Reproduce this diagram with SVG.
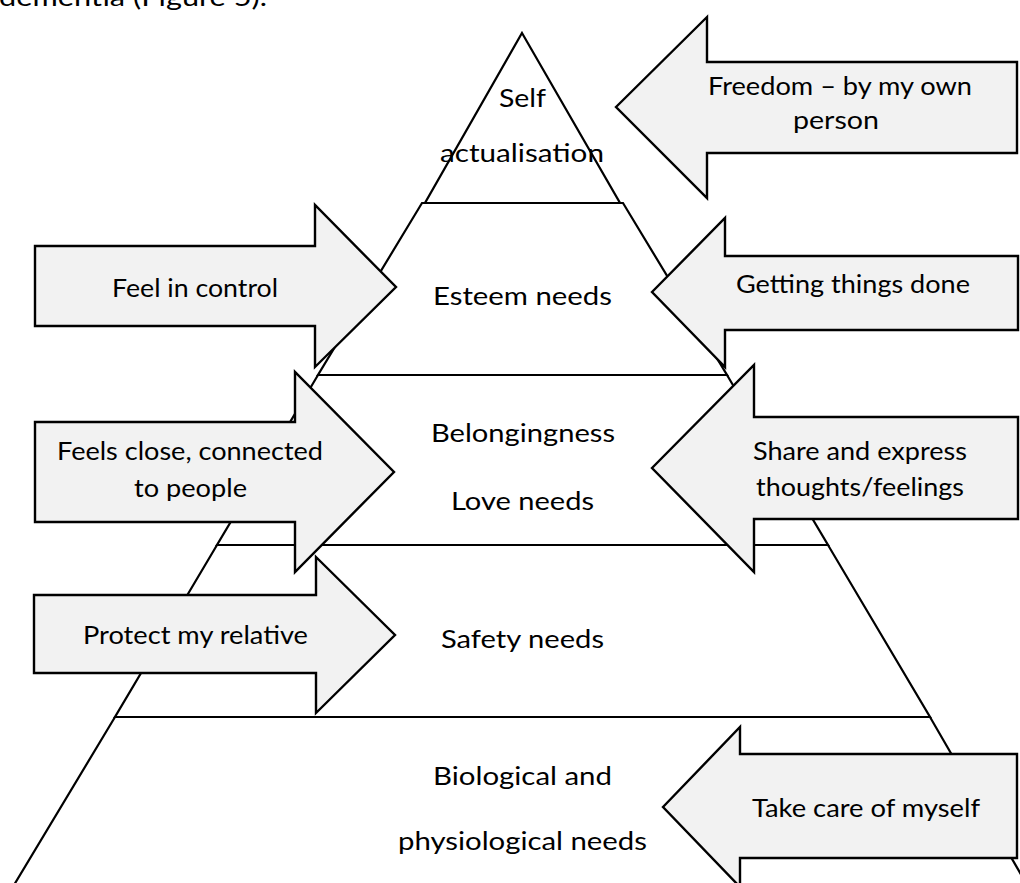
<svg xmlns="http://www.w3.org/2000/svg" width="1020" height="883" viewBox="0 0 1020 883">
<style>
.lvl{fill:#ffffff;stroke:#000;stroke-width:2.2;stroke-linejoin:miter}
.arr{fill:#f2f2f2;stroke:#000;stroke-width:2.4;stroke-linejoin:miter}
text{font-family:Lato,"Open Sans","Liberation Sans",sans-serif;font-size:25px;fill:#000}
</style>
<rect width="1020" height="883" fill="#ffffff"/>
<text x="-1" y="6" textLength="268" lengthAdjust="spacingAndGlyphs">dementia (Figure 5).</text>
<g id="pyramid">
  <g id="level-biological">
    <polygon class="lvl" points="115,717 930,717 1030,890 11,890"/>
    <text x="433" y="785" textLength="179" lengthAdjust="spacingAndGlyphs">Biological and</text>
    <text x="398" y="850" textLength="249" lengthAdjust="spacingAndGlyphs">physiological needs</text>
  </g>
  <g id="level-safety">
    <polygon class="lvl" points="217,545 828,545 930,717 115,717"/>
    <text x="441" y="648" textLength="163" lengthAdjust="spacingAndGlyphs">Safety needs</text>
  </g>
  <g id="level-belonging">
    <polygon class="lvl" points="318,375 727,375 828,545 217,545"/>
    <text x="431" y="442" textLength="184" lengthAdjust="spacingAndGlyphs">Belongingness</text>
    <text x="451" y="510" textLength="143" lengthAdjust="spacingAndGlyphs">Love needs</text>
  </g>
  <g id="level-esteem">
    <polygon class="lvl" points="422,203 623,203 727,375 318,375"/>
    <text x="433" y="305" textLength="179" lengthAdjust="spacingAndGlyphs">Esteem needs</text>
  </g>
  <g id="level-self">
    <polygon class="lvl" points="522,33 620,203 425,203"/>
    <text x="499" y="107" textLength="47" lengthAdjust="spacingAndGlyphs">Self</text>
    <text x="440" y="162" textLength="164" lengthAdjust="spacingAndGlyphs">actualisation</text>
  </g>
</g>
<g id="connectors"></g>
<g id="arrow-freedom">
  <polygon class="arr" points="616,107 707,17 707,62 1017,62 1017,153 707,153 707,198"/>
  <text x="708" y="95" textLength="264" lengthAdjust="spacingAndGlyphs">Freedom – by my own</text>
  <text x="793" y="129" textLength="86" lengthAdjust="spacingAndGlyphs">person</text>
</g>
<g id="arrow-control">
  <polygon class="arr" points="35,246 315,246 315,205 396,287 315,367 315,326 35,326"/>
  <text x="112" y="297" textLength="166" lengthAdjust="spacingAndGlyphs">Feel in control</text>
</g>
<g id="arrow-done">
  <polygon class="arr" points="652,292 725,218 725,256 1018,256 1018,330 725,330 725,367"/>
  <text x="736" y="293" textLength="234" lengthAdjust="spacingAndGlyphs">Getting things done</text>
</g>
<g id="arrow-close">
  <polygon class="arr" points="35,422 295,422 295,372 394,472 295,572 295,522 35,522"/>
  <text x="57" y="460" textLength="266" lengthAdjust="spacingAndGlyphs">Feels close, connected</text>
  <text x="134" y="497" textLength="113" lengthAdjust="spacingAndGlyphs">to people</text>
</g>
<g id="arrow-share">
  <polygon class="arr" points="652,468 754,365 754,417 1018,417 1018,519 754,519 754,572"/>
  <text x="753" y="460" textLength="214" lengthAdjust="spacingAndGlyphs">Share and express</text>
  <text x="756" y="496" textLength="208" lengthAdjust="spacingAndGlyphs">thoughts/feelings</text>
</g>
<g id="arrow-protect">
  <polygon class="arr" points="34,595 316,595 316,557 395,635 316,713 316,673 34,673"/>
  <text x="83" y="644" textLength="225" lengthAdjust="spacingAndGlyphs">Protect my relative</text>
</g>
<g id="arrow-care">
  <polygon class="arr" points="663,807 740,727 740,754 1017,754 1017,858 740,858 740,887"/>
  <text x="752" y="817" textLength="228" lengthAdjust="spacingAndGlyphs">Take care of myself</text>
</g>
</svg>
